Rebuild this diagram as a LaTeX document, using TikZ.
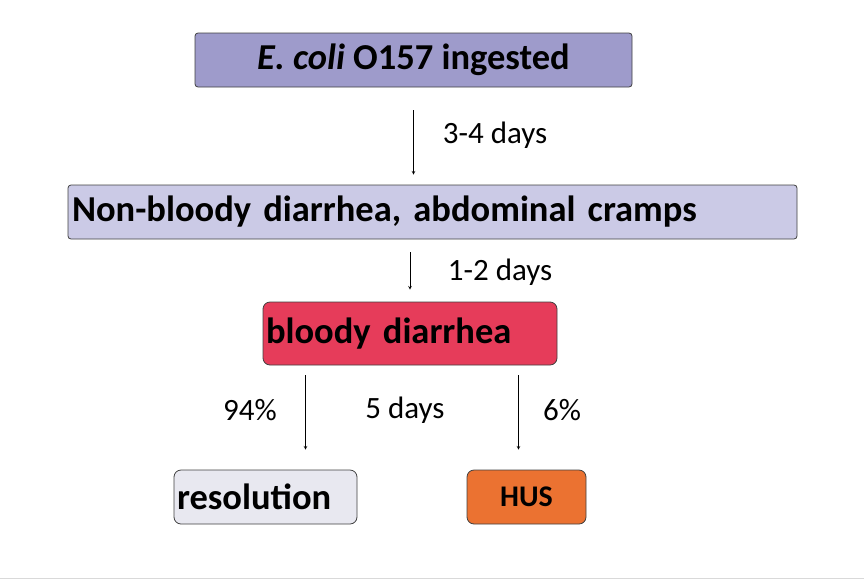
\documentclass[tikz,border=0pt]{standalone}
\usepackage{fontspec}
\setmainfont{Carlito}
\definecolor{topc}{HTML}{9E9BCB}
\definecolor{midc}{HTML}{CBCAE6}
\definecolor{redc}{HTML}{E63C5A}
\definecolor{resc}{HTML}{E8E8F0}
\definecolor{husc}{HTML}{EB7231}
\begin{document}
\begin{tikzpicture}[x=1pt,y=-1pt,
 box/.style={draw=black!75,line width=0.8pt,rounded corners=3pt,inner sep=3pt,font=\bfseries\fontsize{36.5}{40}\selectfont},
 lab/.style={font=\fontsize{31}{34}\selectfont},
 arr/.style={->,>=stealth,line width=0.6pt}]
\useasboundingbox (0,0) rectangle (864,584);
\draw[black!15,line width=1pt] (0,578) -- (864,578);
\node[box,fill=topc,minimum width=437pt,minimum height=54pt] (top) at (413.5,60) {\textit{E. coli} O157 ingested\hspace{36pt}};
\node[box,fill=midc,minimum width=729pt,minimum height=54pt,text width=721pt,align=left] (mid) at (432.5,212) {Non-bloody diarrhea, abdominal cramps};
\node[box,fill=redc,rounded corners=7pt,minimum width=294pt,minimum height=63pt,text width=288pt,align=left] (bd) at (410,333.5) {bloody diarrhea};
\node[box,fill=resc,rounded corners=7pt,minimum width=183pt,minimum height=54pt,text width=177pt,align=left] (res) at (265.5,497) {resolution};
\node[box,fill=husc,rounded corners=7pt,minimum width=119pt,minimum height=54pt,font=\bfseries\fontsize{30}{33}\selectfont] (hus) at (526.5,497) {HUS};
\draw[arr,shorten <=23pt,shorten >=10pt] (top.south) -- (mid.north -| top.south);
\draw[arr,shorten <=13pt,shorten >=12pt] (mid.south -| bd.north) -- (bd.north);
\draw[arr,shorten <=10pt,shorten >=20pt] (bd.south -| res.north) ++(40,0) coordinate (a1) -- (a1 |- res.north);
\draw[arr,shorten <=10pt,shorten >=20pt] (bd.south -| hus.north) ++(-8,0) coordinate (a2) -- (a2 |- hus.north);
\node[lab] (l1) at (495,135) {3-4 days};
\node[lab] (l2) at (500,272) {1-2 days};
\node[lab] (l3) at (250,410) {94\%};
\node[lab] (l4) at (405,410) {5 days};
\node[lab] (l5) at (562,410) {6\%};
\end{tikzpicture}
\end{document}
